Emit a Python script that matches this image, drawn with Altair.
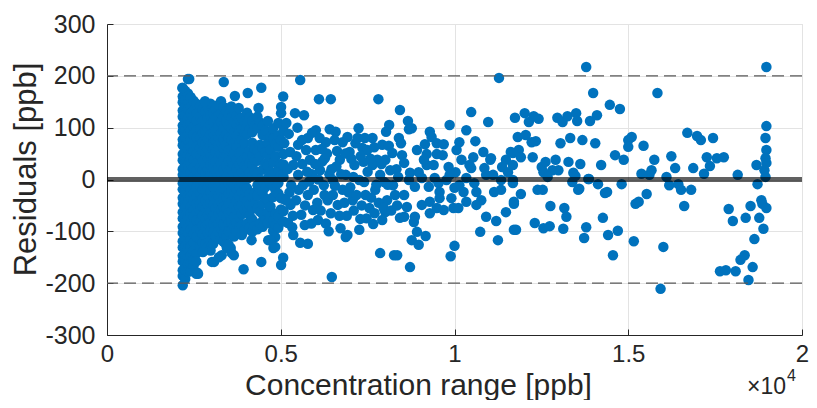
import altair as alt
import pandas as pd

# ---- data (x: concentration in ppb, y: residual in ppb) ----
# dense band of points right above the lowest concentration (columns: x -> residuals)
band_columns = {
    2180: [176, 160, 149, 133, 121, 104, 93, 77, 66, 49, 37, 20, 9, -7, -19, -35, -47, -63, -75, -91, -103, -119, -131, -147, -158, -175, -186, -204],
    2250: [171, 154, 141, 124, 112, 94, 82, 64, 52, 33, 21, 4, -11, -24, -41, -54, -71, -84, -101, -114, -129, -146, -161, -173, -192],
    2330: [194, 166, 149, 136, 118, 106, 88, 76, 58, 46, 28, 16, -2, -14, -32, -44, -62, -73, -92, -104, -122, -133, -151, -163, -178],
    2410: [159, 141, 127, 109, 95, 77, 63, 45, 31, 13, -1, -19, -33, -51, -65, -83, -97, -115, -129, -147, -161, -177],
    2490: [152, 133, 119, 101, 87, 69, 55, 37, 23, 5, -9, -27, -41, -59, -73, -91, -105, -123, -137, -155, -167],
    2570: [146, 127, 113, 95, 81, 63, 49, 31, 17, -1, -15, -33, -47, -65, -79, -97, -111, -129, -143, -158, -182],
}

# crowded cloud between ~2.7e3 and ~5.1e3 ppb
cloud_columns = {
    2680: [142, 121, 99, 81, 61, 46, 24, 9, -11, -27, -46, -61, -81, -97, -116, -129],
    2755: [136, 114, 90, 72, 55, 36, 18, -2, -19, -36, -52, -70, -88, -105, -121],
    2830: [131, 110, 93, 69, 51, 31, 13, -6, -21, -41, -57, -76, -91, -111, -124],
    2905: [139, 118, 99, 78, 59, 40, 20, 1, -15, -32, -50, -68, -86, -104, -130],
    2980: [146, 124, 106, 87, 67, 47, 29, 9, -9, -24, -45, -62, -83, -99, -119, -137],
    3055: [128, 112, 90, 70, 58, 39, 22, 2, -14, -33, -49, -70, -86, -104, -124],
    3130: [137, 119, 95, 76, 54, 36, 17, -3, -19, -39, -55, -75, -91, -109],
    3205: [144, 123, 103, 83, 63, 42, 24, 4, -13, -31, -49, -67, -85, -101],
    3280: [151, 127, 111, 89, 71, 49, 31, 11, -7, -23, -43, -59, -79, -95, -116],
    3355: [140, 120, 98, 79, 60, 40, 20, 0, -17, -37, -52, -69, -87, -104, -120],
    3430: [131, 113, 87, 66, 44, 26, 4, -16, -34, -56, -71, -91, -109, -126],
    3505: [125, 104, 81, 57, 36, 15, -8, -27, -47, -64, -84, -100],
    3580: [141, 119, 99, 77, 59, 37, 19, -4, -21, -43, -61, -81, -99],
    3655: [133, 112, 91, 70, 49, 27, 9, -12, -32, -52, -72, -90, -110],
    3730: [124, 106, 84, 63, 39, 21, -1, -19, -41, -59, -83, -101],
    3805: [116, 94, 71, 50, 29, 8, -13, -33, -52, -73, -93],
    3880: [119, 97, 76, 54, 36, 14, -6, -24, -49, -67, -89, -107],
    3955: [112, 90, 70, 26, 4, -14, -36, -58, -98],
    4030: [129, 109, 87, 44, 23, 1, -17, -41, -61, -85],
    4105: [120, 97, 55, 33, 13, -28, -49, -69, -92],
    4180: [113, 91, 71, 47, 29, 7, -34, -56, -77, -101],
    4255: [104, 59, 38, 17, -25, -46, -90],
    4330: [121, 99, 55, 36, 11, -11, -31, -56, -96],
    4405: [110, 67, 45, 0, -20, -62, -84],
    4480: [104, 86, 61, 19, -3, -23, -47, -67, -91],
    4555: [95, 52, 30, -15, -36, -78],
    4630: [113, 71, 47, 26, 3, -39, -63, -84],
    4705: [82, 58, 15, -8, -52, -72],
    4780: [99, 79, 33, 9, -13, -34, -79, -99],
    4855: [68, 45, -2, -22, -66, -88],
    4930: [109, 85, 63, 19, -7, -27, -71, -93],
    5005: [76, 30, 8, -36, -58],
    5080: [94, 49, 29, 5, -37, -61, -81],
}

left_outliers = [
    [2365, 194], [2170, 177], [3360, 188], [2820, 151], [3680, 161], [4050, 167],
    [4440, 177], [4360, 138], [5070, 160], [3790, 138], [5010, 140], [5010, 128],
    [3930, -173], [4440, -159], [3080, -159], [3300, -146], [3560, -132], [3650, -146],
    [2600, -180], [5010, -165], [4790, -132], [4640, -117], [4840, -111], [2760, -140],
    [3020, -159], [3220, -150], [3450, -132], [3500, -126], [3590, -142], [4160, -117],
    [4700, -117], [4840, -130], [5070, -151], [2620, -182],
]

mid_points = [
    [5560, 192], [6100, 155], [6440, 155], [7810, 155], [5410, 128], [5670, 124],
    [5160, 109], [6010, 95], [6410, 97], [6580, 92], [7240, 99], [7640, 80],
    [8120, 105], [8030, 92], [5780, 80], [6920, 82], [6550, 76], [5500, 67],
    [5270, 53], [6180, 59], [7150, 70], [7350, 61], [8210, 51], [7210, 80],
    [7920, 67], [8400, 80],
    [6470, -188], [7860, -142], [8260, -146], [5560, -122], [5780, -124], [5360, -107],
    [6720, -94], [6870, -111], [7260, -97], [7660, -86], [7920, -78], [5210, -84],
    [8010, -63], [8430, -74], [7290, -76], [6920, -107],
    [5360, 28], [5500, 9], [5640, -11], [5780, -30], [5440, -40], [5840, 38],
    [6010, 57], [6130, 18], [6240, -11], [6350, -40], [5930, -59], [6070, -78],
    [6440, -65], [6640, -49], [6780, -20], [6870, 9], [6700, 38], [6980, 53],
    [7120, 28], [7260, -1], [7440, -30], [7550, -55], [7720, -20], [7860, 9],
    [8010, 38], [8150, 18], [8230, -11], [8060, -40], [7780, 38], [7490, 57],
    [7070, -40], [6500, -1], [5590, -68], [5280, -49], [5300, -11], [5730, 57],
    [6300, 72], [6780, 72], [7380, 34], [7640, 28], [7980, -5], [8290, -30],
    [6270, 41], [5200, 20], [5250, -25], [5350, -70], [5450, 45], [5620, 30],
    [5700, -50], [5900, 10], [5950, -20], [6050, -45], [6150, -60], [6200, 35],
    [6400, 10], [6500, -30], [6600, 25], [6900, -70], [7000, -15], [7100, -60],
    [7400, -5], [7500, 15], [7700, -65], [5900, 90], [6300, -85], [5100, 70],
    [5150, -40],
    [5230, 88], [5330, -92], [5480, 100], [5520, -20], [5610, 76], [5690, -88],
    [5760, 15], [5820, -4], [5880, -85], [5990, 30], [6080, 0], [6120, 80],
    [6260, -30], [6330, 50], [6380, -100], [6460, 20], [6560, -12], [6620, 55],
    [6690, -70], [6740, 10], [6830, -45], [6860, 50], [6960, -25], [7030, 40],
    [7090, 5], [7180, -30], [7300, 45], [7330, -50], [7420, 80], [7470, -75],
    [7580, 40], [7600, -35], [7690, 62], [7750, -10], [7820, -45], [7900, 30],
    [7960, -55], [8080, -10], [8110, 65], [8180, -60], [8330, 20], [8350, -50],
    [8380, 5],
]

center_points = [
    [8430, 134], [8660, 113], [8690, 97], [8770, 99], [9290, 92], [9340, 82],
    [9490, 70], [9690, 68], [9150, 68], [9200, 49], [9490, 49], [9860, 105],
    [10340, 95], [10480, 130], [10970, 111], [10600, 74], [10140, 72], [10830, 53],
    [11050, 41], [10540, 43], [10430, 28], [11620, 53], [11480, 38], [11680, 28],
    [8460, 70], [8490, 47], [8550, 32], [9400, 28], [9830, 24], [10030, 14],
    [9860, 9], [8720, 13], [8970, 14], [11280, 196],
    [8860, -14], [9260, -14], [9540, -7], [9570, -24], [8550, -30], [8630, -53],
    [8550, -72], [8860, -72], [8830, -82], [9060, -49], [9290, -43], [9570, -36],
    [9690, -59], [9290, -65], [9970, -55], [10110, -55], [10340, -43], [10260, -24],
    [10140, -11], [10630, -24], [10770, -40], [11140, -24], [11480, -63], [10910, -72],
    [11200, -80], [11710, -43], [10740, -101], [11250, -117], [11710, -97], [8920, -101],
    [8770, -117], [8970, -126], [9170, -109], [10000, -128], [9890, -148], [8350, -146],
    [8720, -169],
    [11030, 38], [11370, 24], [9060, 3], [9770, -1], [10340, 3], [10910, 9],
    [11340, -1], [11540, 14], [10570, -7], [10000, -16], [9430, 3], [8690, -1],
    [10860, 22], [11110, 9], [10480, 22], [10200, 38], [9200, 28], [9660, 47],
    [10060, 57], [8920, 57], [9120, 38], [11340, -20], [9910, -36], [9490, -55],
    [10630, -49],
]

right_points = [
    [11740, 119], [12020, 128], [12140, 111], [12280, 122], [12420, 117], [12960, 119],
    [13110, 111], [13250, 122], [13500, 128], [13530, 113], [13900, 113], [14100, 124],
    [13790, 217], [13990, 167], [14470, 144], [14760, 136], [11820, 82], [12050, 86],
    [12220, 72], [12340, 74], [11850, 57], [11680, 51], [13050, 70], [13330, 80],
    [13680, 76], [14050, 70], [14620, 47], [14870, 38], [15000, 76], [15100, 82],
    [15000, 63], [15440, 65], [11910, 43], [12250, 43], [12510, 24], [12620, 34],
    [12910, 38], [13280, 34], [13620, 30], [14220, 28], [12560, 14], [12820, 18],
    [12990, 18], [12680, 5], [13420, 13], [11680, -1], [11680, -7], [13390, -5],
    [13870, 1], [14130, -9], [13560, -20], [14330, -26], [14390, -24], [14810, -9],
    [12390, -20], [12540, -20], [11910, -28], [11710, -47], [12760, -51], [13160, -55],
    [13220, -72], [14270, -74], [11770, -97], [12310, -84], [12560, -94], [12740, -90],
    [13130, -95], [13790, -92], [13730, -113], [14420, -107], [14700, -99], [14560, -146],
    [15750, 38], [16240, 45], [16350, 22], [15380, 11], [15610, 9], [15670, 18],
    [15840, 167], [16700, 90], [16980, 84], [17090, 76], [17440, 80], [17260, 43],
    [17350, 26], [17550, 41], [17750, 43], [16870, 22], [17180, 11], [16100, 5],
    [16180, -11], [18150, 9], [18690, 28], [18975, 217], [18975, 103], [18950, 80],
    [18975, 57], [18950, 41], [18975, 32], [18920, 18], [18950, 5], [18720, -9],
    [13480, 7], [13850, 1], [13590, -18], [16440, -9], [16520, -20], [16810, -20],
    [16610, -51], [15530, -28], [15300, -43], [15210, -47], [15160, -119], [16010, -130],
    [15930, -211], [17890, -57], [18010, -80], [18380, -74], [18520, -51], [18770, -74],
    [18830, -40], [18860, -47], [18975, -55], [18890, -95], [18630, -115], [17640, -177],
    [17810, -175], [18090, -177], [18230, -155], [18350, -146], [18580, -169], [18460, -194],
]

x_ticks = [0, 5000, 10000, 15000, 20000]
y_ticks = [-300, -200, -100, 0, 100, 200, 300]
limit_lines = [-200, 200]
zero_line = [0]

# ---- build table ----
rows = []
for cols in (band_columns, cloud_columns):
    for xv, ys in cols.items():
        rows += [{"conc": xv, "res": yv} for yv in ys]
for group in (left_outliers, mid_points, center_points, right_points):
    rows += [{"conc": p[0], "res": p[1]} for p in group]
df = pd.DataFrame(rows)

FONT = "Liberation Sans"
TXT = "#262626"
PLOT_W = 695

xscale = alt.Scale(domain=[0, 20000], nice=False, zero=False)
yscale = alt.Scale(domain=[-300, 300], nice=False, zero=False)

points = alt.Chart(df).mark_circle(size=110, opacity=1, color="#0072BD").encode(
    x=alt.X("conc:Q", scale=xscale, axis=alt.Axis(
        orient="bottom", values=x_ticks, labelExpr="'' + (datum.value / 10000)",
        labelFlush=False,
        title="Concentration range [ppb]", grid=True, gridColor="#e3e3e3", gridWidth=1,
        ticks=False, tickSize=0, domainColor=TXT, domainWidth=1,
        labelFont=FONT, labelFontSize=24, labelColor=TXT, labelPadding=7,
        titleFont=FONT, titleFontSize=30, titleFontWeight="normal", titleColor=TXT,
        titleX=311, titleY=59, titleAlign="center", titleBaseline="alphabetic")),
    y=alt.Y("res:Q", scale=yscale, axis=alt.Axis(
        orient="left", values=y_ticks, labelExpr="'' + datum.value",
        labelFlush=False,
        title="Residuals [ppb]", grid=True, gridColor="#e3e3e3", gridWidth=1,
        ticks=False, tickSize=0, domainColor=TXT, domainWidth=1,
        labelFont=FONT, labelFontSize=25, labelColor=TXT, labelPadding=12,
        titleFont=FONT, titleFontSize=31, titleFontWeight="normal", titleColor=TXT,
        titleAngle=270, titleX=-81, titleY=145, titleAlign="center", titleBaseline="middle")),
)

# inward tick marks (axis moved inside by its own tick length)
tick_layer = alt.Chart(df).mark_point(opacity=0).encode(
    x=alt.X("conc:Q", scale=xscale, axis=alt.Axis(
        orient="bottom", values=x_ticks, labels=False, domain=False, grid=False,
        ticks=True, tickSize=6, tickColor=TXT, tickWidth=1, offset=-6, title=None)),
    y=alt.Y("res:Q", scale=yscale, axis=alt.Axis(
        orient="left", values=y_ticks, labels=False, domain=False, grid=False,
        ticks=True, tickSize=6, tickColor=TXT, tickWidth=1, offset=-6, title=None)),
)

limits = alt.Chart(pd.DataFrame({"v": limit_lines})).mark_rule(
    color="#5a5a5a", strokeWidth=1.2, strokeDash=[12, 6]
).encode(y=alt.Y("v:Q", scale=yscale, axis=None))

zero = alt.Chart(pd.DataFrame({"v": zero_line})).mark_rule(
    color="#000000", opacity=0.62, strokeWidth=5
).encode(y=alt.Y("v:Q", scale=yscale, axis=None))

exp_base = alt.Chart(pd.DataFrame({"t": ["\u00d710"]})).mark_text(
    font=FONT, fontSize=23, color=TXT, align="left", baseline="alphabetic"
).encode(text="t:N", x=alt.value(640), y=alt.value(370))

exp_pow = alt.Chart(pd.DataFrame({"t": ["4"]})).mark_text(
    font=FONT, fontSize=16, color=TXT, align="left", baseline="alphabetic"
).encode(text="t:N", x=alt.value(680), y=alt.value(357))

chart = alt.layer(points, tick_layer, limits, zero, exp_base, exp_pow).resolve_axis(
    x="independent", y="independent"
).properties(
    width=PLOT_W, height=311,
    autosize=alt.AutoSizeParams(type="none"),
    padding={"left": 99, "top": 16, "right": 7, "bottom": 65},
).configure_view(stroke=None).configure(background="white")

chart.save("out.html", embed_options={"renderer": "svg", "actions": False})
